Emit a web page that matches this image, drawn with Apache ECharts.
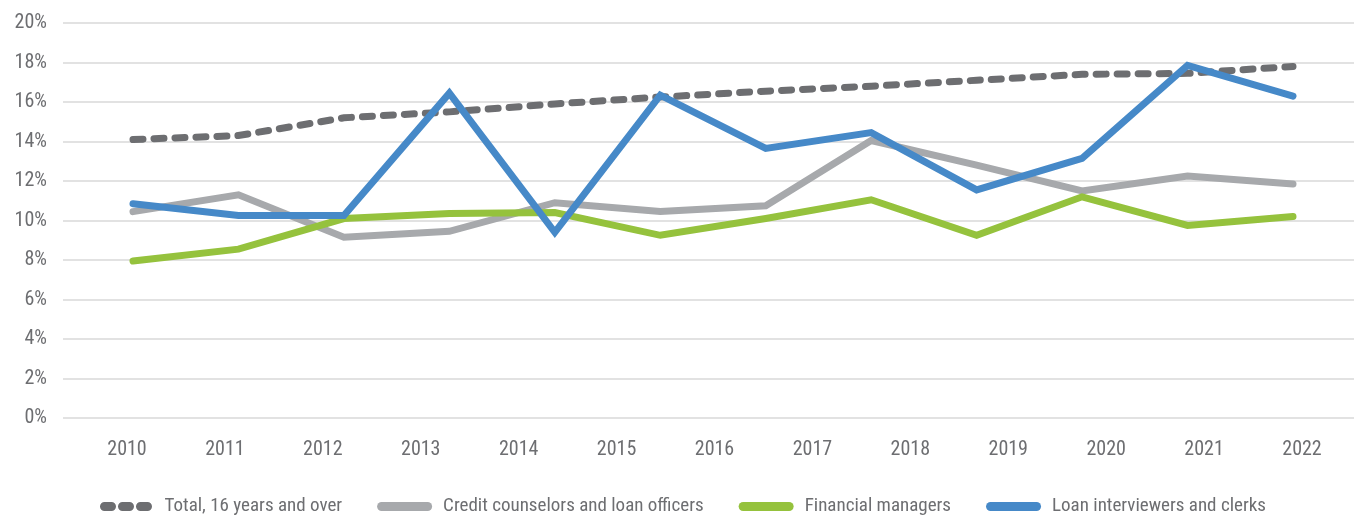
<!DOCTYPE html>
<html>
<head>
<meta charset="utf-8">
<script src="https://cdn.jsdelivr.net/npm/echarts@6/dist/echarts.min.js"></script>
<style>
  html, body { margin: 0; padding: 0; background: #fff; }
  #main { width: 1354px; height: 515px; }
</style>
</head>
<body>
<div id="main"></div>
<script>
// axis labels (13 years) and the 12 plotted points
let years = ['2010', '2011', '2012', '2013', '2014', '2015', '2016', '2017', '2018', '2019', '2020', '2021', '2022']
let pointYears = ['2010', '2011', '2012', '2013', '2014', '2015', '2016', '2017', '2018', '2019', '2020', '2021']
let yTicks = [0, 2, 4, 6, 8, 10, 12, 14, 16, 18, 20]

// percent values
let total = [14.1, 14.3, 15.2, 15.5, 15.9, 16.25, 16.55, 16.8, 17.1, 17.4, 17.45, 17.8]
let creditCounselors = [10.45, 11.3, 9.15, 9.45, 10.9, 10.45, 10.75, 14.05, 12.8, 11.5, 12.25, 11.85]
let financialManagers = [7.95, 8.55, 10.1, 10.35, 10.4, 9.25, 10.1, 11.05, 9.25, 11.2, 9.75, 10.2]
let loanClerks = [10.85, 10.25, 10.25, 16.45, 9.4, 16.35, 13.65, 14.45, 11.55, 13.15, 17.85, 16.3]

let names = ['Total, 16 years and over', 'Credit counselors and loan officers', 'Financial managers', 'Loan interviewers and clerks']
let textColor = '#6d6e71'
let font = "'Roboto Condensed', 'Liberation Sans Narrow', Roboto, sans-serif"

// legend icons: a pill, and three pills for the dashed line
let pill = 'path://M4.5,0 H50.5 A4.5,4.5 0 0 1 50.5,9 H4.5 A4.5,4.5 0 0 1 4.5,0 Z'
let dashPill = 'path://M4.5,0 H11.5 A4.5,4.5 0 0 1 11.5,9 H4.5 A4.5,4.5 0 0 1 4.5,0 Z' +
  'M22.5,0 H29.5 A4.5,4.5 0 0 1 29.5,9 H22.5 A4.5,4.5 0 0 1 22.5,0 Z' +
  'M40.5,0 H47.5 A4.5,4.5 0 0 1 47.5,9 H40.5 A4.5,4.5 0 0 1 40.5,0 Z'

let myChart = echarts.init(document.getElementById('main'))

const lineSeries = (name, data, color, dashed) => ({
  name: name,
  type: 'line',
  xAxisIndex: 2,
  yAxisIndex: 2,
  data: data,
  symbol: 'none',
  animation: false,
  z: 5,
  lineStyle: {
    color: color,
    width: 7,
    type: dashed ? [10, 11] : 'solid',
    cap: 'round',
    join: 'miter'
  },
  itemStyle: { color: color }
})

let option = {
  backgroundColor: '#fff',
  animation: false,
  grid: [
    // gridlines + y labels
    { left: 63, right: 0, top: 23, bottom: 97 },
    // year labels
    { left: 127, right: 52, top: 23, bottom: 97 },
    // plotted lines
    { left: 133, right: 61, top: 23, bottom: 97 }
  ],
  xAxis: [
    { type: 'category', gridIndex: 0, data: years, show: false },
    {
      type: 'category', gridIndex: 1, data: years, boundaryGap: false,
      axisLine: { show: false }, axisTick: { show: false },
      axisLabel: { color: textColor, fontSize: 20, fontFamily: font, margin: 22 }
    },
    { type: 'category', gridIndex: 2, data: pointYears, boundaryGap: false, show: false }
  ],
  yAxis: [
    {
      type: 'value', gridIndex: 0, min: 0, max: 20, interval: 2,
      axisLine: { show: false }, axisTick: { show: false },
      axisLabel: { color: textColor, fontSize: 20, fontFamily: font, margin: 16, formatter: '{value}%' },
      splitLine: { lineStyle: { color: '#d9d9d9', width: 1.5 } }
    },
    { type: 'value', gridIndex: 1, min: 0, max: 20, show: false },
    { type: 'value', gridIndex: 2, min: 0, max: 20, show: false }
  ],
  legend: {
    top: 492,
    left: 95,
    itemWidth: 55,
    itemHeight: 9,
    itemGap: 35,
    textStyle: { color: textColor, fontSize: 19, fontFamily: font, padding: [0, 0, 0, 6] },
    data: [
      { name: names[0], icon: dashPill },
      { name: names[1], icon: pill },
      { name: names[2], icon: pill },
      { name: names[3], icon: pill }
    ]
  },
  series: [
    lineSeries(names[1], creditCounselors, '#a7a9ac'),
    lineSeries(names[2], financialManagers, '#95c23d'),
    lineSeries(names[0], total, '#6d6e71', true),
    lineSeries(names[3], loanClerks, '#4689c8')
  ]
}
// legend order follows legend.data, series order controls stacking
myChart.setOption(option)
</script>
</body>
</html>
